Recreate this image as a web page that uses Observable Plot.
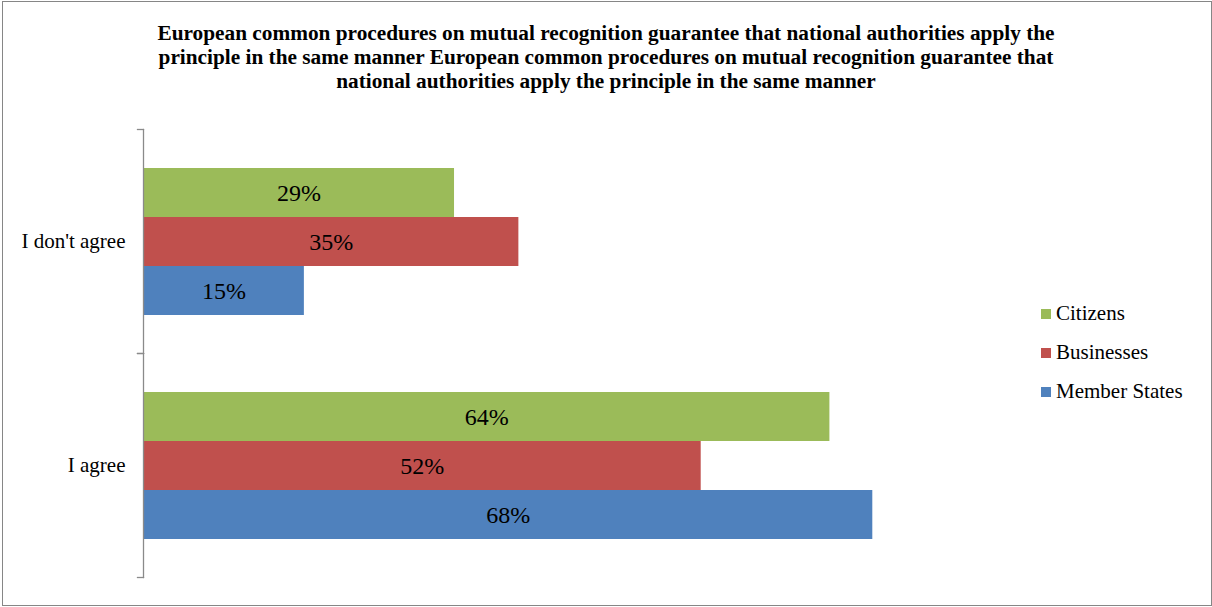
<!DOCTYPE html>
<html>
<head>
<meta charset="utf-8">
<script src="https://cdn.jsdelivr.net/npm/d3@7"></script>
<script src="https://cdn.jsdelivr.net/npm/@observablehq/plot@0.6"></script>
<style>
  html, body { margin: 0; padding: 0; background: #fff; }
  #page { position: relative; width: 1212px; height: 607px; overflow: hidden; font-family: 'Liberation Serif', 'Times New Roman', serif; }
  #border { position: absolute; left: 2px; top: 1px; width: 1210px; height: 605px; border: 1px solid #868686; box-sizing: border-box; }
  #title { position: absolute; left: 0; top: 21px; width: 1212px; text-align: center; font-weight: bold; font-size: 21.3px; line-height: 24px; color: #000; }
  #chart { position: absolute; left: 0; top: 100px; }
  #legend { position: absolute; left: 1041px; top: 294px; font-size: 21px; color: #000; }
  .row { display: flex; align-items: center; height: 39px; }
  .sw { width: 10px; height: 10px; margin-right: 5px; }
</style>
</head>
<body>
<div id="page">
  <div id="border"></div>
  <div id="title">European common procedures on mutual recognition guarantee that national authorities apply the<br>principle in the same manner European common procedures on mutual recognition guarantee that<br>national authorities apply the principle in the same manner</div>
  <div id="chart"></div>
  <div id="legend"></div>
</div>
<script>
const categories = ["I don't agree", "I agree"];
const series = ["Citizens", "Businesses", "Member States"];
const colors = ["#9BBB59", "#C0504D", "#4F81BD"];
const citizens = [29, 64];
const businesses = [35, 52];
const memberStates = [15, 68];

const valuesBySeries = [citizens, businesses, memberStates];
const rows = [];
categories.forEach((c, i) => {
  series.forEach((s, j) => rows.push({category: c, series: s, value: valuesBySeries[j][i]}));
});

const W = 1020, ML = 143, MR = 19;
const plot = Plot.plot({
  width: W,
  height: 497,
  marginLeft: ML,
  marginRight: MR,
  marginTop: 28,
  marginBottom: 20,
  style: {fontFamily: "'Liberation Serif', 'Times New Roman', serif", background: "transparent"},
  x: {domain: [0, 80], axis: null},
  y: {domain: series, paddingInner: 0, paddingOuter: 0.745, axis: null},
  fy: {domain: categories, padding: 0, label: null},
  color: {domain: series, range: colors},
  marks: [
    Plot.axisFy({anchor: "left", tickSize: 0, tickPadding: 18, label: null, fontSize: 21, fill: "#000"}),
    Plot.barX(rows, {x: "value", y: "series", fy: "category", fill: "series"}),
    Plot.text(rows, Plot.stackX({x: "value", y: "series", fy: "category", text: d => d.value + "%", fontSize: 24, fill: "#000"})),
    Plot.frame({anchor: "left", stroke: "#8a8a8a", strokeWidth: 1.3}),
    Plot.frame({anchor: "top", stroke: "#8a8a8a", strokeWidth: 1.3, insetLeft: -6, insetRight: W - ML - MR}),
    Plot.frame({anchor: "bottom", stroke: "#8a8a8a", strokeWidth: 1.3, insetLeft: -6, insetRight: W - ML - MR})
  ]
});
document.getElementById("chart").appendChild(plot);

const legend = d3.select("#legend");
series.forEach((s, i) => {
  const r = legend.append("div").attr("class", "row");
  r.append("div").attr("class", "sw").style("background", colors[i]);
  r.append("span").text(s);
});
</script>
</body>
</html>
